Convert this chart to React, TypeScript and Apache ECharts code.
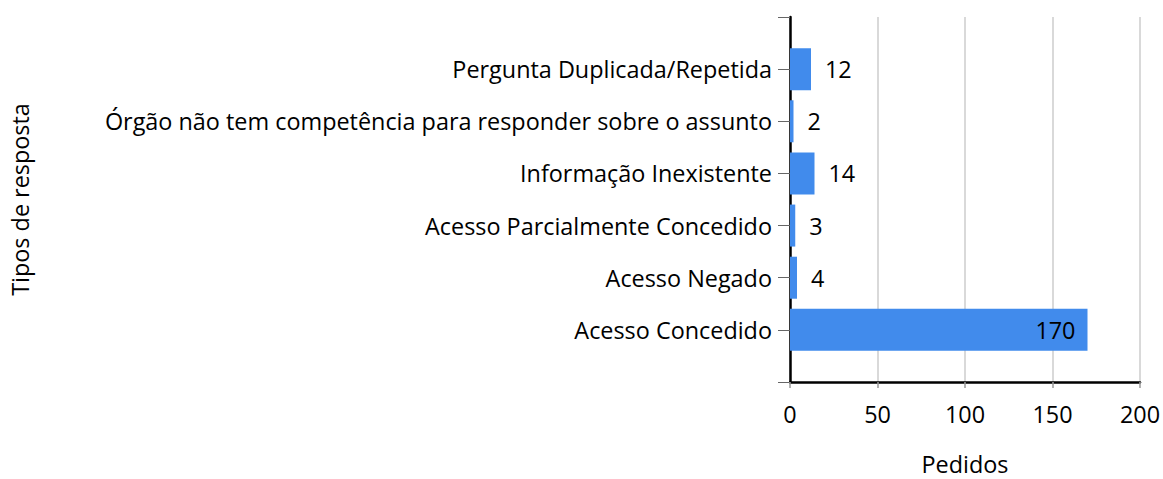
import React, { useEffect, useRef } from "react";
import * as echarts from "echarts";

const categories = [
  "",
  "Acesso Concedido",
  "Acesso Negado",
  "Acesso Parcialmente Concedido",
  "Informação Inexistente",
  "Órgão não tem competência para responder sobre o assunto",
  "Pergunta Duplicada/Repetida",
  "",
];
const values: (number | string)[] = ["-", 170, 4, 3, 14, 2, 12, "-"];
const xTicks = { min: 0, max: 200, interval: 50 };

const FONT = "Open Sans";
const FS = 23.4;

export default function App() {
  const ref = useRef<HTMLDivElement>(null);
  useEffect(() => {
    document.body.style.margin = "0";
    if (!ref.current) return;
    const chart = echarts.init(ref.current, null, { renderer: "svg" });
    chart.setOption({
      animation: false,
      textStyle: { fontFamily: FONT, color: "#000" },
      grid: {
        left: 790,
        right: 23,
        top: 17,
        bottom: 97,
        containLabel: false,
        outerBoundsMode: "none",
      },
      xAxis: {
        type: "value",
        min: xTicks.min,
        max: xTicks.max,
        interval: xTicks.interval,
        name: "Pedidos",
        nameLocation: "middle",
        nameGap: 70,
        nameTextStyle: { fontFamily: FONT, fontSize: FS, color: "#000" },
        axisLine: { show: true, lineStyle: { color: "#000", width: 2.5 } },
        axisTick: { show: true, length: 6, lineStyle: { color: "#999", width: 1.5 } },
        axisLabel: { fontFamily: FONT, fontSize: FS, color: "#000", margin: 20 },
        splitLine: { show: true, lineStyle: { color: "#d9d9d9", width: 2 } },
      },
      yAxis: {
        type: "category",
        data: categories,
        boundaryGap: false,
        name: "Tipos de resposta",
        nameLocation: "middle",
        nameGap: 759,
        nameTextStyle: { fontFamily: FONT, fontSize: FS, color: "#000" },
        axisLine: { show: true, lineStyle: { color: "#000", width: 2.5 } },
        axisTick: { show: true, length: 12, lineStyle: { color: "#666", width: 1 } },
        axisLabel: { fontFamily: FONT, fontSize: FS, color: "#000", margin: 18 },
        splitLine: { show: false },
      },
      series: [
        {
          type: "bar",
          data: values.map((v) =>
            typeof v === "number" && v > 100
              ? { value: v, label: { position: "insideRight", distance: 12 } }
              : v
          ),
          barWidth: 42,
          itemStyle: { color: "#418bec" },
          label: {
            show: true,
            position: "right",
            distance: 14,
            fontFamily: FONT,
            fontSize: FS,
            color: "#000",
          },
        },
      ],
    });
    return () => chart.dispose();
  }, []);
  return <div ref={ref} style={{ width: 1163, height: 479 }} />;
}
